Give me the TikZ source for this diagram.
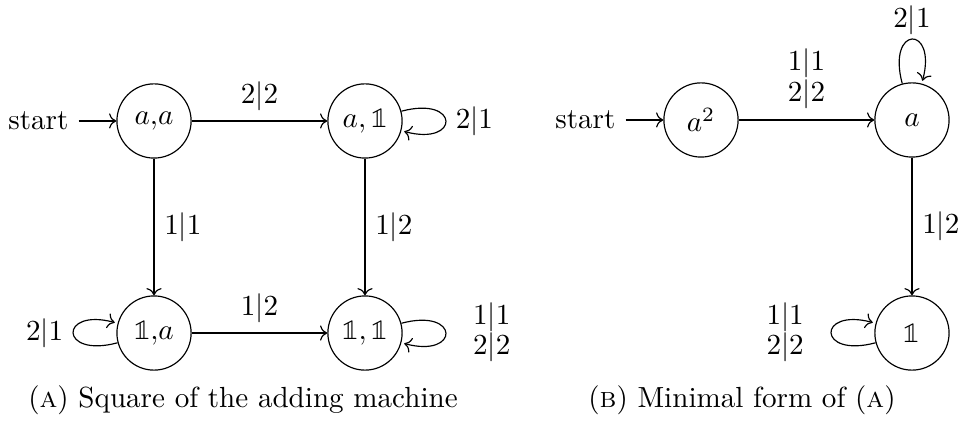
\documentclass[tikz,border=0pt]{standalone}
\usepackage{amsmath}
\usepackage{amssymb}
\usepackage{fontspec}
\newfontfamily\dsfam{latinmodern-math.otf}
\newcommand{\one}{\text{\dsfam 𝟙}}
\newcommand{\pairs}[2]{{\renewcommand{\arraystretch}{0.83}\begin{tabular}{c}#1\\#2\end{tabular}}}
\usepackage{tikz}
\usetikzlibrary{automata,positioning,arrows.meta}

\begin{document}
\begin{tikzpicture}[x=1cm,y=1cm]
	\tikzset{
		s/.style={state, draw=black, line width=0.4pt, minimum size=25.5pt, inner sep=1pt},
		e/.style={->, draw=black, line width=0.4pt},
		w/.style={inner sep=3.33pt},
		capt/.style={inner sep=0pt}
	}
	\useasboundingbox (0,0) rectangle (11.606,-5.157);
	
	% ======= (a) square of the adding machine =======
	\node[s, initial, initial text=start] (naa) at (1.860,-1.461) {$a{,}a$};
	\node[s] (na1) at (4.408,-1.461) {$a{,}\,\one$};
	\node[s] (n1a) at (1.860,-4.022) {$\one{,}a$};
	\node[s] (n11) at (4.408,-4.022) {$\one{,}\,\one$};
	
	\draw[e] (naa) -- (na1) node[midway, w, above] {$2|2$};
	\draw[e] (naa) -- (n1a) node[midway, w, right] {$1|1$};
	\draw[e] (na1) -- (n11) node[midway, w, right] {$1|2$};
	\draw[e] (n1a) -- (n11) node[midway, w, above] {$1|2$};
	\draw[e] (na1) edge[loop right] node[w, right] {$2|1$} ();
	\draw[e] (n1a) edge[loop left] node[w, left] {$2|1$} ();
	\draw[e] (n11) edge[loop right] node[w, right] {\pairs{$1|1$}{$2|2$}} ();
	
	% ======= (b) minimal form =======
	\node[s, initial, initial text=start] (na2) at (8.466,-1.449) {$a^2$};
	\node[s] (na) at (11.014,-1.449) {$a$};
	\node[s] (n1) at (11.014,-4.022) {$\one$};
	
	\draw[e] (na2) -- (na) node[midway, w, above] {\pairs{$1|1$}{$2|2$}};
	\draw[e] (na) -- (n1) node[midway, w, right] {$1|2$};
	\draw[e] (na) edge[loop above] node[w, above, yshift=-2pt] {$2|1$} ();
	\draw[e] (n1) edge[loop left] node[w, left] {\pairs{$1|1$}{$2|2$}} ();
	
	% ======= captions =======
	\node[capt] (capA) at (2.935,-4.831) {(\textsc{a}) Square of the adding machine};
	\node[capt] (capB) at (8.961,-4.831) {(\textsc{b}) Minimal form of (\textsc{a})};
\end{tikzpicture}
\end{document}
